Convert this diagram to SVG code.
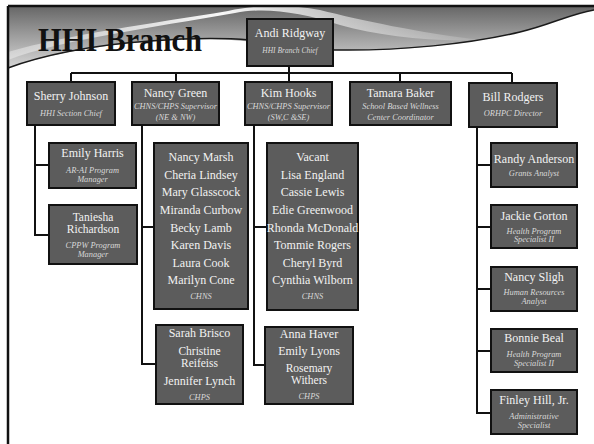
<svg xmlns="http://www.w3.org/2000/svg" width="594" height="444" viewBox="0 0 594 444">
<defs>
<linearGradient id="hdr" x1="0" y1="0" x2="0" y2="1">
<stop offset="0" stop-color="#666"/>
<stop offset="0.45" stop-color="#9a9a9a"/>
<stop offset="1" stop-color="#d6d6d6"/>
</linearGradient>
<linearGradient id="rib" x1="0" y1="0" x2="1" y2="0">
<stop offset="0" stop-color="#fff" stop-opacity="0.35"/>
<stop offset="0.45" stop-color="#fff" stop-opacity="0.95"/>
<stop offset="1" stop-color="#fff" stop-opacity="0.1"/>
</linearGradient>
</defs>
<style>
.box{fill:#5c5c5c;stroke:#111;stroke-width:2}
.n{font-family:"Liberation Serif",serif;font-size:12px;fill:#f2f2f2;text-anchor:middle}
.s{font-family:"Liberation Serif",serif;font-size:8.4px;font-style:italic;fill:#d8d8d8;text-anchor:middle}
.c{fill:none;stroke:#111;stroke-width:2}
</style>
<rect width="594" height="444" fill="#fff"/>
<g id="header">
<path d="M8,6 H594 V10 C570,14 545,26 520,32 C470,44 400,52 330,50 C280,47 250,39 205,39 C130,40 60,50 8,68 Z" fill="url(#hdr)"/>
<path d="M8,60 C60,40 150,28 235,13 C265,7 300,12 340,25 C380,36 430,42 480,40 C420,33 360,20 320,10 C290,4 255,5 228,11 C150,24 70,34 8,52 Z" fill="url(#rib)"/>
<path d="M8,68 C40,56 90,45 150,41 C190,38 225,38 250,40 C280,45 300,49 335,50 C400,51 470,44 520,32 C550,25 570,14 594,10" fill="none" stroke="#1a1a1a" stroke-width="1.5"/>
<path d="M8,6 V444 M8,6 H594" fill="none" stroke="#111" stroke-width="2.5"/>
<text x="38" y="51" font-family="Liberation Serif,serif" font-weight="bold" font-size="33" fill="#111" textLength="164" lengthAdjust="spacingAndGlyphs">HHI Branch</text>
</g>
<g id="connectors">
<path class="c" d="M289,66 V73 M71,73 H512 M71,73 V82 M176,73 V82 M289,73 V82 M400,73 V82 M512,73 V83"/>
<path class="c" d="M35,125 V235 H49 M35,165 H49"/>
<path class="c" d="M142,125 V364 H156 M142,227 H154"/>
<path class="c" d="M254,125 V365 H265 M254,227 H267"/>
<path class="c" d="M477,127 V413 H491 M477,165 H491 M477,227 H491 M477,289 H491 M477,351 H491"/>
</g>
<g id="andi"><rect class="box" x="247" y="19" width="86" height="47"/><text class="n" x="290" y="37" font-size="11">Andi Ridgway</text><text class="s" x="290" y="53" style="font-size:7.5px">HHI Branch Chief</text></g>
<g id="sherry"><rect class="box" x="27" y="82" width="88" height="43"/><text class="n" x="71" y="100">Sherry Johnson</text><text class="s" x="71" y="116">HHI Section Chief</text></g>
<g id="nancy-green"><rect class="box" x="132" y="82" width="87" height="43"/><text class="n" x="175.5" y="97">Nancy Green</text><text class="s" x="175.5" y="109">CHNS/CHPS Supervisor</text><text class="s" x="175.5" y="120">(NE &amp; NW)</text></g>
<g id="kim"><rect class="box" x="245" y="82" width="87" height="43"/><text class="n" x="288.5" y="97">Kim Hooks</text><text class="s" x="288.5" y="109">CHNS/CHPS Supervisor</text><text class="s" x="288.5" y="120">(SW,C &amp;SE)</text></g>
<g id="tamara"><rect class="box" x="350" y="82" width="101" height="43"/><text class="n" x="400.5" y="97">Tamara Baker</text><text class="s" x="400.5" y="109">School Based Wellness</text><text class="s" x="400.5" y="120">Center Coordinator</text></g>
<g id="bill"><rect class="box" x="469" y="83" width="88" height="44"/><text class="n" x="513" y="101">Bill Rodgers</text><text class="s" x="513" y="116">ORHPC Director</text></g>
<g id="emily"><rect class="box" x="49" y="143" width="87" height="45"/><text class="n" x="92.5" y="157">Emily Harris</text><text class="s" x="92.5" y="173">AR-AI Program</text><text class="s" x="92.5" y="182">Manager</text></g>
<g id="taniesha"><rect class="box" x="49" y="205" width="88" height="59"/><text class="n" x="93" y="221" style="font-size:11.5px">Taniesha</text><text class="n" x="93" y="233" style="font-size:11.5px">Richardson</text><text class="s" x="93" y="248">CPPW Program</text><text class="s" x="93" y="257">Manager</text></g>
<g id="nancy-chns"><rect class="box" x="154" y="143" width="94" height="166"/>
<text class="n" x="201" y="161">Nancy Marsh</text><text class="n" x="201" y="179">Cheria Lindsey</text><text class="n" x="201" y="196">Mary Glasscock</text><text class="n" x="201" y="214">Miranda Curbow</text><text class="n" x="201" y="232">Becky Lamb</text><text class="n" x="201" y="249">Karen Davis</text><text class="n" x="201" y="267">Laura Cook</text><text class="n" x="201" y="284">Marilyn Cone</text><text class="s" x="201" y="299">CHNS</text></g>
<g id="kim-chns"><rect class="box" x="267" y="143" width="91" height="167"/>
<text class="n" x="312.5" y="161">Vacant</text><text class="n" x="312.5" y="179">Lisa England</text><text class="n" x="312.5" y="196">Cassie Lewis</text><text class="n" x="312.5" y="214">Edie Greenwood</text><text class="n" x="312.5" y="232">Rhonda McDonald</text><text class="n" x="312.5" y="249">Tommie Rogers</text><text class="n" x="312.5" y="267">Cheryl Byrd</text><text class="n" x="312.5" y="284">Cynthia Wilborn</text><text class="s" x="312.5" y="299">CHNS</text></g>
<g id="nancy-chps"><rect class="box" x="156" y="325" width="87" height="79"/>
<text class="n" x="199.5" y="337">Sarah Brisco</text><text class="n" x="199.5" y="355" style="font-size:11.5px">Christine</text><text class="n" x="199.5" y="367" style="font-size:11.5px">Reifeiss</text><text class="n" x="199.5" y="385">Jennifer Lynch</text><text class="s" x="199.5" y="400">CHPS</text></g>
<g id="kim-chps"><rect class="box" x="265" y="327" width="88" height="77"/>
<text class="n" x="309" y="338">Anna Haver</text><text class="n" x="309" y="355">Emily Lyons</text><text class="n" x="309" y="372" style="font-size:11.5px">Rosemary</text><text class="n" x="309" y="384" style="font-size:11.5px">Withers</text><text class="s" x="309" y="399">CHPS</text></g>
<g id="randy"><rect class="box" x="491" y="143" width="86" height="44"/><text class="n" x="534" y="163">Randy Anderson</text><text class="s" x="534" y="176">Grants Analyst</text></g>
<g id="jackie"><rect class="box" x="491" y="205" width="86" height="43"/><text class="n" x="534" y="220">Jackie Gorton</text><text class="s" x="534" y="234">Health Program</text><text class="s" x="534" y="242">Specialist II</text></g>
<g id="nancy-sligh"><rect class="box" x="491" y="267" width="86" height="44"/><text class="n" x="534" y="281">Nancy Sligh</text><text class="s" x="534" y="295">Human Resources</text><text class="s" x="534" y="304">Analyst</text></g>
<g id="bonnie"><rect class="box" x="491" y="329" width="86" height="43"/><text class="n" x="534" y="342">Bonnie Beal</text><text class="s" x="534" y="357">Health Program</text><text class="s" x="534" y="366">Specialist II</text></g>
<g id="finley"><rect class="box" x="491" y="390" width="86" height="44"/><text class="n" x="534" y="404">Finley Hill, Jr.</text><text class="s" x="534" y="419">Administrative</text><text class="s" x="534" y="428">Specialist</text></g>
</svg>
